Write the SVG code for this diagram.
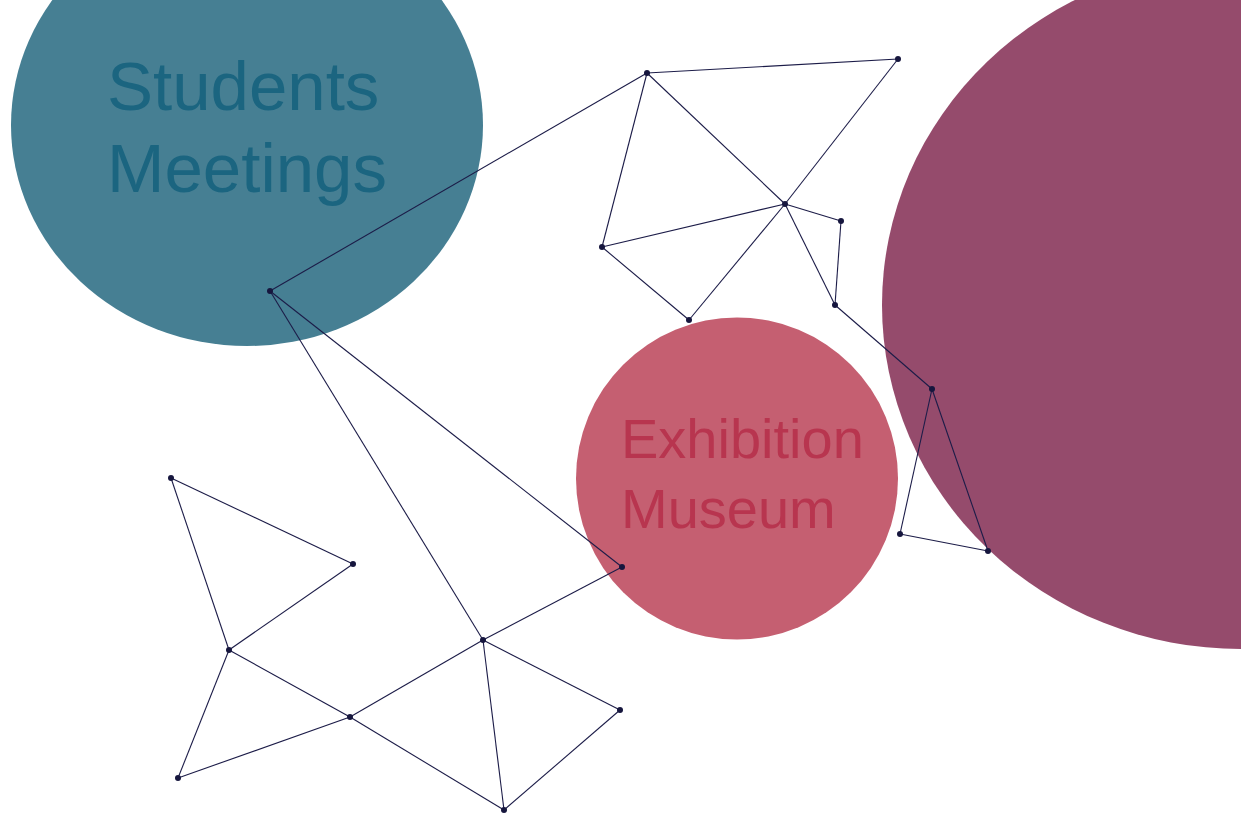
<svg xmlns="http://www.w3.org/2000/svg" width="1241" height="816" viewBox="0 0 1241 816">
  <style>
    .label { font-family: "Liberation Sans", Arial, sans-serif; }
    .edge { stroke: #1c1c48; stroke-width: 1.1; fill: none; }
    .dot { fill: #16163e; }
  </style>
  <rect width="1241" height="816" fill="#ffffff"/>

  <!-- background bubbles -->
  <g id="bubble-students">
    <ellipse cx="247" cy="125" rx="236" ry="221" fill="#467f93"/>
    <text class="label" x="107" y="110" font-size="69" fill="#1b6580">Students</text>
    <text class="label" x="107" y="192" font-size="69" fill="#1b6580">Meetings</text>
  </g>
  <g id="bubble-exhibition">
    <circle cx="737" cy="478.5" r="161" fill="#c55f71"/>
    <text class="label" x="621" y="458" font-size="56" fill="#b8354f">Exhibition</text>
    <text class="label" x="621" y="528" font-size="56" fill="#b8354f">Museum</text>
  </g>
  <g id="bubble-right">
    <ellipse cx="1241" cy="305" rx="359" ry="344" fill="#954b6c"/>
  </g>

  <!-- connectors -->
  <g id="edges" class="edge">
    <line x1="270" y1="291" x2="647" y2="73"/>
    <line x1="270" y1="291" x2="483" y2="640"/>
    <line x1="270" y1="291" x2="622" y2="567"/>
    <line x1="647" y1="73" x2="898" y2="59"/>
    <line x1="647" y1="73" x2="785" y2="204"/>
    <line x1="647" y1="73" x2="602" y2="247"/>
    <line x1="898" y1="59" x2="785" y2="204"/>
    <line x1="785" y1="204" x2="689" y2="320"/>
    <line x1="602" y1="247" x2="785" y2="204"/>
    <line x1="602" y1="247" x2="689" y2="320"/>
    <line x1="785" y1="204" x2="841" y2="221"/>
    <line x1="785" y1="204" x2="835" y2="305"/>
    <line x1="841" y1="221" x2="835" y2="305"/>
    <line x1="835" y1="305" x2="932" y2="389"/>
    <line x1="932" y1="389" x2="900" y2="534"/>
    <line x1="932" y1="389" x2="988" y2="551"/>
    <line x1="900" y1="534" x2="988" y2="551"/>
    <line x1="622" y1="567" x2="483" y2="640"/>
    <line x1="483" y1="640" x2="350" y2="717"/>
    <line x1="483" y1="640" x2="504" y2="810"/>
    <line x1="483" y1="640" x2="620" y2="710"/>
    <line x1="620" y1="710" x2="504" y2="810"/>
    <line x1="171" y1="478" x2="353" y2="564"/>
    <line x1="171" y1="478" x2="229" y2="650"/>
    <line x1="353" y1="564" x2="229" y2="650"/>
    <line x1="229" y1="650" x2="350" y2="717"/>
    <line x1="229" y1="650" x2="178" y2="778"/>
    <line x1="178" y1="778" x2="350" y2="717"/>
    <line x1="350" y1="717" x2="504" y2="810"/>
  </g>

  <!-- nodes -->
  <g id="nodes">
    <circle id="n1" class="dot" cx="270" cy="291" r="3"/>
    <circle id="n2" class="dot" cx="647" cy="73" r="3"/>
    <circle id="n3" class="dot" cx="898" cy="59" r="3"/>
    <circle id="n4" class="dot" cx="785" cy="204" r="3"/>
    <circle id="n5" class="dot" cx="602" cy="247" r="3"/>
    <circle id="n6" class="dot" cx="689" cy="320" r="3"/>
    <circle id="n7" class="dot" cx="841" cy="221" r="3"/>
    <circle id="n8" class="dot" cx="835" cy="305" r="3"/>
    <circle id="n9" class="dot" cx="932" cy="389" r="3"/>
    <circle id="n10" class="dot" cx="900" cy="534" r="3"/>
    <circle id="n11" class="dot" cx="988" cy="551" r="3"/>
    <circle id="n12" class="dot" cx="622" cy="567" r="3"/>
    <circle id="n13" class="dot" cx="483" cy="640" r="3"/>
    <circle id="n14" class="dot" cx="171" cy="478" r="3"/>
    <circle id="n15" class="dot" cx="353" cy="564" r="3"/>
    <circle id="n16" class="dot" cx="229" cy="650" r="3"/>
    <circle id="n17" class="dot" cx="350" cy="717" r="3"/>
    <circle id="n18" class="dot" cx="178" cy="778" r="3"/>
    <circle id="n19" class="dot" cx="504" cy="810" r="3"/>
    <circle id="n20" class="dot" cx="620" cy="710" r="3"/>
  </g>
</svg>
